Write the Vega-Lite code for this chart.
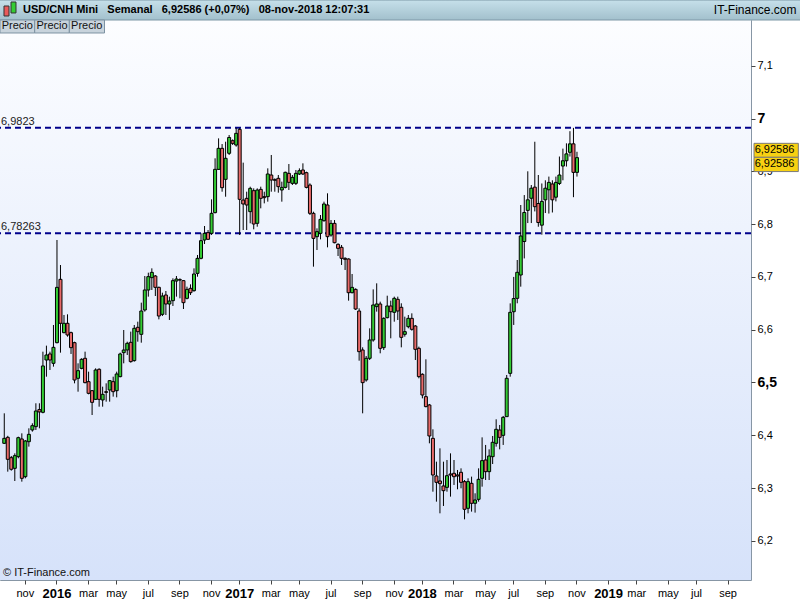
{
  "$schema": "https://vega.github.io/schema/vega-lite/v6.json",
  "width": 751,
  "height": 560,
  "autosize": {"type": "none"},
  "padding": {"left": 0, "top": 20, "right": 49, "bottom": 20},
  "background": "white",
  "config": {
    "view": {"stroke": "#8796a5", "strokeWidth": 1},
    "font": "Liberation Sans",
    "axis": {"grid": false, "title": null, "labelFont": "Liberation Sans", "labelColor": "#000"}
  },
  "datasets": {
    "one": [{"k": 1}],
    "ohlc": [
    {"d":"2015-09-21","o":6.3848,"h":6.4416,"l":6.3835,"c":6.3942},
    {"d":"2015-09-28","o":6.3961,"h":6.3990,"l":6.3311,"c":6.3545},
    {"d":"2015-10-05","o":6.3576,"h":6.3608,"l":6.3330,"c":6.3356},
    {"d":"2015-10-12","o":6.3374,"h":6.3658,"l":6.3134,"c":6.3614},
    {"d":"2015-10-19","o":6.3595,"h":6.3974,"l":6.3564,"c":6.3955},
    {"d":"2015-10-26","o":6.3930,"h":6.4037,"l":6.3122,"c":6.3185},
    {"d":"2015-11-02","o":6.3216,"h":6.3911,"l":6.3185,"c":6.3892},
    {"d":"2015-11-09","o":6.3879,"h":6.4132,"l":6.3785,"c":6.4018},
    {"d":"2015-11-16","o":6.4101,"h":6.4227,"l":6.4069,"c":6.4182},
    {"d":"2015-11-23","o":6.4164,"h":6.4606,"l":6.4101,"c":6.4460},
    {"d":"2015-11-30","o":6.4487,"h":6.4606,"l":6.4132,"c":6.4442},
    {"d":"2015-12-07","o":6.4435,"h":6.5584,"l":6.4416,"c":6.5313},
    {"d":"2015-12-14","o":6.5426,"h":6.5698,"l":6.5110,"c":6.5521},
    {"d":"2015-12-21","o":6.5540,"h":6.5584,"l":6.5237,"c":6.5426},
    {"d":"2015-12-28","o":6.5363,"h":6.6089,"l":6.5300,"c":6.5666},
    {"d":"2016-01-04","o":6.5754,"h":6.7699,"l":6.5742,"c":6.6802},
    {"d":"2016-01-11","o":6.6954,"h":6.7225,"l":6.5565,"c":6.6121},
    {"d":"2016-01-18","o":6.5944,"h":6.6279,"l":6.5931,"c":6.6121},
    {"d":"2016-01-25","o":6.6121,"h":6.6291,"l":6.5868,"c":6.5900},
    {"d":"2016-02-01","o":6.5944,"h":6.5963,"l":6.5540,"c":6.5660},
    {"d":"2016-02-08","o":6.5754,"h":6.5773,"l":6.4984,"c":6.5047},
    {"d":"2016-02-15","o":6.5079,"h":6.5363,"l":6.4826,"c":6.5224},
    {"d":"2016-02-22","o":6.5268,"h":6.5458,"l":6.5250,"c":6.5439},
    {"d":"2016-02-29","o":6.5458,"h":6.5584,"l":6.4984,"c":6.4997},
    {"d":"2016-03-07","o":6.5016,"h":6.5205,"l":6.4776,"c":6.4795},
    {"d":"2016-03-14","o":6.4845,"h":6.4858,"l":6.4384,"c":6.4624},
    {"d":"2016-03-21","o":6.4681,"h":6.5268,"l":6.4668,"c":6.5237},
    {"d":"2016-03-28","o":6.5250,"h":6.5268,"l":6.4542,"c":6.4681},
    {"d":"2016-04-04","o":6.4669,"h":6.4921,"l":6.4542,"c":6.4776},
    {"d":"2016-04-11","o":6.4826,"h":6.4984,"l":6.4637,"c":6.4813},
    {"d":"2016-04-18","o":6.4858,"h":6.5047,"l":6.4637,"c":6.5035},
    {"d":"2016-04-25","o":6.5016,"h":6.5110,"l":6.4732,"c":6.4826},
    {"d":"2016-05-02","o":6.4845,"h":6.5205,"l":6.4719,"c":6.5161},
    {"d":"2016-05-09","o":6.5111,"h":6.5565,"l":6.5098,"c":6.5540},
    {"d":"2016-05-16","o":6.5565,"h":6.5994,"l":6.5363,"c":6.5615},
    {"d":"2016-05-23","o":6.5616,"h":6.5773,"l":6.5521,"c":6.5742},
    {"d":"2016-05-30","o":6.5761,"h":6.5963,"l":6.5376,"c":6.5395},
    {"d":"2016-06-06","o":6.5414,"h":6.6089,"l":6.5395,"c":6.6026},
    {"d":"2016-06-13","o":6.6045,"h":6.6152,"l":6.5773,"c":6.5963},
    {"d":"2016-06-20","o":6.5912,"h":6.6512,"l":6.5754,"c":6.6354},
    {"d":"2016-06-27","o":6.6373,"h":6.7017,"l":6.6342,"c":6.6752},
    {"d":"2016-07-04","o":6.6752,"h":6.7080,"l":6.6626,"c":6.7005},
    {"d":"2016-07-11","o":6.6986,"h":6.7162,"l":6.6752,"c":6.7086},
    {"d":"2016-07-18","o":6.7017,"h":6.7036,"l":6.6638,"c":6.6802},
    {"d":"2016-07-25","o":6.6802,"h":6.6815,"l":6.6196,"c":6.6259},
    {"d":"2016-08-01","o":6.6291,"h":6.6701,"l":6.6259,"c":6.6638},
    {"d":"2016-08-08","o":6.6657,"h":6.6733,"l":6.6278,"c":6.6487},
    {"d":"2016-08-15","o":6.6487,"h":6.6626,"l":6.6184,"c":6.6543},
    {"d":"2016-08-22","o":6.6550,"h":6.6973,"l":6.6449,"c":6.6929},
    {"d":"2016-08-29","o":6.6922,"h":6.7017,"l":6.6626,"c":6.6960},
    {"d":"2016-09-05","o":6.6947,"h":6.6973,"l":6.6594,"c":6.6941},
    {"d":"2016-09-12","o":6.6929,"h":6.6941,"l":6.6392,"c":6.6512},
    {"d":"2016-09-19","o":6.6594,"h":6.6815,"l":6.6575,"c":6.6764},
    {"d":"2016-09-26","o":6.6783,"h":6.6859,"l":6.6657,"c":6.6701},
    {"d":"2016-10-03","o":6.6739,"h":6.7162,"l":6.6720,"c":6.7055},
    {"d":"2016-10-10","o":6.7067,"h":6.7415,"l":6.7004,"c":6.7351},
    {"d":"2016-10-17","o":6.7352,"h":6.7825,"l":6.7333,"c":6.7686},
    {"d":"2016-10-24","o":6.7699,"h":6.7964,"l":6.7623,"c":6.7825},
    {"d":"2016-10-31","o":6.7838,"h":6.7888,"l":6.7699,"c":6.7712},
    {"d":"2016-11-07","o":6.7825,"h":6.8469,"l":6.7794,"c":6.8204},
    {"d":"2016-11-14","o":6.8217,"h":6.9246,"l":6.8204,"c":6.9037},
    {"d":"2016-11-21","o":6.9037,"h":6.9624,"l":6.9025,"c":6.9435},
    {"d":"2016-11-28","o":6.9435,"h":6.9517,"l":6.8614,"c":6.8690},
    {"d":"2016-12-05","o":6.8848,"h":6.9561,"l":6.8519,"c":6.9246},
    {"d":"2016-12-12","o":6.9341,"h":6.9688,"l":6.9309,"c":6.9641},
    {"d":"2016-12-19","o":6.9580,"h":6.9605,"l":6.9499,"c":6.9530},
    {"d":"2016-12-26","o":6.9498,"h":6.9823,"l":6.9467,"c":6.9719},
    {"d":"2017-01-02","o":6.9795,"h":6.9823,"l":6.7794,"c":6.8469},
    {"d":"2017-01-09","o":6.8456,"h":6.9164,"l":6.7888,"c":6.8381},
    {"d":"2017-01-16","o":6.8488,"h":6.8614,"l":6.7888,"c":6.8362},
    {"d":"2017-01-23","o":6.8236,"h":6.8709,"l":6.8015,"c":6.8677},
    {"d":"2017-01-30","o":6.8633,"h":6.8677,"l":6.7901,"c":6.8002},
    {"d":"2017-02-06","o":6.8015,"h":6.8677,"l":6.7951,"c":6.8646},
    {"d":"2017-02-13","o":6.8658,"h":6.8709,"l":6.8299,"c":6.8488},
    {"d":"2017-02-20","o":6.8520,"h":6.8614,"l":6.8393,"c":6.8501},
    {"d":"2017-02-27","o":6.8520,"h":6.9056,"l":6.8425,"c":6.8949},
    {"d":"2017-03-06","o":6.8930,"h":6.9309,"l":6.8614,"c":6.8835},
    {"d":"2017-03-13","o":6.8842,"h":6.8867,"l":6.8614,"c":6.8830},
    {"d":"2017-03-20","o":6.8867,"h":6.8930,"l":6.8595,"c":6.8709},
    {"d":"2017-03-27","o":6.8646,"h":6.8804,"l":6.8425,"c":6.8696},
    {"d":"2017-04-03","o":6.8696,"h":6.8993,"l":6.8677,"c":6.8981},
    {"d":"2017-04-10","o":6.8961,"h":6.9138,"l":6.8646,"c":6.8791},
    {"d":"2017-04-17","o":6.8772,"h":6.8930,"l":6.8741,"c":6.8886},
    {"d":"2017-04-24","o":6.8772,"h":6.9025,"l":6.8741,"c":6.8961},
    {"d":"2017-05-01","o":6.8949,"h":6.9056,"l":6.8930,"c":6.9012},
    {"d":"2017-05-08","o":6.9025,"h":6.9151,"l":6.8930,"c":6.8949},
    {"d":"2017-05-15","o":6.8974,"h":6.8993,"l":6.8677,"c":6.8696},
    {"d":"2017-05-22","o":6.8740,"h":6.8772,"l":6.8172,"c":6.8204},
    {"d":"2017-05-29","o":6.8204,"h":6.8235,"l":6.7194,"c":6.7730},
    {"d":"2017-06-05","o":6.7762,"h":6.7920,"l":6.7509,"c":6.7857},
    {"d":"2017-06-12","o":6.7825,"h":6.8172,"l":6.7711,"c":6.8090},
    {"d":"2017-06-19","o":6.8065,"h":6.8425,"l":6.8046,"c":6.8381},
    {"d":"2017-06-26","o":6.8362,"h":6.8583,"l":6.7560,"c":6.7762},
    {"d":"2017-07-03","o":6.7793,"h":6.8077,"l":6.7762,"c":6.8014},
    {"d":"2017-07-10","o":6.8014,"h":6.8077,"l":6.7636,"c":6.7648},
    {"d":"2017-07-17","o":6.7617,"h":6.7636,"l":6.7396,"c":6.7541},
    {"d":"2017-07-24","o":6.7560,"h":6.7604,"l":6.7226,"c":6.7352},
    {"d":"2017-07-31","o":6.7352,"h":6.7371,"l":6.7131,"c":6.7333},
    {"d":"2017-08-07","o":6.7339,"h":6.7352,"l":6.6550,"c":6.6701},
    {"d":"2017-08-14","o":6.6701,"h":6.7055,"l":6.6689,"c":6.6802},
    {"d":"2017-08-21","o":6.6764,"h":6.6783,"l":6.6373,"c":6.6392},
    {"d":"2017-08-28","o":6.6354,"h":6.6405,"l":6.5413,"c":6.5584},
    {"d":"2017-09-04","o":6.5616,"h":6.5666,"l":6.4416,"c":6.4997},
    {"d":"2017-09-11","o":6.5048,"h":6.5502,"l":6.5016,"c":6.5458},
    {"d":"2017-09-18","o":6.5458,"h":6.6026,"l":6.5426,"c":6.5805},
    {"d":"2017-09-25","o":6.5805,"h":6.6764,"l":6.5773,"c":6.6468},
    {"d":"2017-10-02","o":6.6437,"h":6.6878,"l":6.6342,"c":6.6487},
    {"d":"2017-10-09","o":6.6487,"h":6.6531,"l":6.5553,"c":6.5647},
    {"d":"2017-10-16","o":6.5660,"h":6.6234,"l":6.5616,"c":6.6215},
    {"d":"2017-10-23","o":6.6228,"h":6.6644,"l":6.6215,"c":6.6449},
    {"d":"2017-10-30","o":6.6449,"h":6.6550,"l":6.5837,"c":6.6341},
    {"d":"2017-11-06","o":6.6329,"h":6.6626,"l":6.6152,"c":6.6594},
    {"d":"2017-11-13","o":6.6575,"h":6.6626,"l":6.6184,"c":6.6354},
    {"d":"2017-11-20","o":6.6424,"h":6.6500,"l":6.5666,"c":6.5855},
    {"d":"2017-11-27","o":6.5912,"h":6.6247,"l":6.5868,"c":6.5963},
    {"d":"2017-12-04","o":6.6057,"h":6.6278,"l":6.6026,"c":6.6215},
    {"d":"2017-12-11","o":6.6215,"h":6.6310,"l":6.5982,"c":6.6007},
    {"d":"2017-12-18","o":6.6070,"h":6.6089,"l":6.5426,"c":6.5628},
    {"d":"2017-12-25","o":6.5647,"h":6.5679,"l":6.5079,"c":6.5111},
    {"d":"2018-01-01","o":6.5155,"h":6.5174,"l":6.4700,"c":6.4763},
    {"d":"2018-01-08","o":6.4732,"h":6.5439,"l":6.4530,"c":6.4543},
    {"d":"2018-01-15","o":6.4574,"h":6.4593,"l":6.3848,"c":6.3987},
    {"d":"2018-01-22","o":6.3942,"h":6.4113,"l":6.2932,"c":6.3248},
    {"d":"2018-01-29","o":6.3229,"h":6.3500,"l":6.2743,"c":6.3109},
    {"d":"2018-02-05","o":6.3135,"h":6.3753,"l":6.2522,"c":6.3084},
    {"d":"2018-02-12","o":6.3040,"h":6.3500,"l":6.2661,"c":6.2951},
    {"d":"2018-02-19","o":6.3014,"h":6.3532,"l":6.2932,"c":6.3235},
    {"d":"2018-02-26","o":6.3267,"h":6.3658,"l":6.2838,"c":6.3248},
    {"d":"2018-03-05","o":6.3280,"h":6.3532,"l":6.3059,"c":6.3216},
    {"d":"2018-03-12","o":6.3248,"h":6.3343,"l":6.2977,"c":6.3229},
    {"d":"2018-03-19","o":6.3299,"h":6.3374,"l":6.2996,"c":6.3109},
    {"d":"2018-03-26","o":6.3122,"h":6.3153,"l":6.2408,"c":6.2598},
    {"d":"2018-04-02","o":6.2617,"h":6.3185,"l":6.2522,"c":6.3122},
    {"d":"2018-04-09","o":6.3090,"h":6.3217,"l":6.2554,"c":6.2712},
    {"d":"2018-04-16","o":6.2712,"h":6.2901,"l":6.2535,"c":6.2775},
    {"d":"2018-04-23","o":6.2787,"h":6.3374,"l":6.2743,"c":6.3166},
    {"d":"2018-04-30","o":6.3185,"h":6.3961,"l":6.3027,"c":6.3520},
    {"d":"2018-05-07","o":6.3532,"h":6.3817,"l":6.3153,"c":6.3311},
    {"d":"2018-05-14","o":6.3311,"h":6.3734,"l":6.3153,"c":6.3608},
    {"d":"2018-05-21","o":6.3595,"h":6.3987,"l":6.3456,"c":6.3867},
    {"d":"2018-05-28","o":6.3848,"h":6.4303,"l":6.3785,"c":6.4113},
    {"d":"2018-06-04","o":6.4100,"h":6.4195,"l":6.3734,"c":6.3961},
    {"d":"2018-06-11","o":6.3999,"h":6.4366,"l":6.3817,"c":6.4340},
    {"d":"2018-06-18","o":6.4353,"h":6.5142,"l":6.4353,"c":6.5079},
    {"d":"2018-06-25","o":6.5173,"h":6.6499,"l":6.5110,"c":6.6329},
    {"d":"2018-07-02","o":6.6340,"h":6.7000,"l":6.6090,"c":6.6590},
    {"d":"2018-07-09","o":6.6594,"h":6.7320,"l":6.6500,"c":6.7087},
    {"d":"2018-07-16","o":6.7036,"h":6.8362,"l":6.6815,"c":6.7775},
    {"d":"2018-07-23","o":6.7670,"h":6.8550,"l":6.7350,"c":6.8220},
    {"d":"2018-07-30","o":6.8260,"h":6.9000,"l":6.8020,"c":6.8460},
    {"d":"2018-08-06","o":6.8490,"h":6.8740,"l":6.8020,"c":6.8680},
    {"d":"2018-08-13","o":6.8700,"h":6.9560,"l":6.8240,"c":6.8330},
    {"d":"2018-08-20","o":6.8390,"h":6.8930,"l":6.7950,"c":6.8030},
    {"d":"2018-08-27","o":6.7980,"h":6.8770,"l":6.7800,"c":6.8430},
    {"d":"2018-09-03","o":6.8460,"h":6.8830,"l":6.8210,"c":6.8680},
    {"d":"2018-09-10","o":6.8650,"h":6.8900,"l":6.8200,"c":6.8790},
    {"d":"2018-09-17","o":6.8760,"h":6.8830,"l":6.8220,"c":6.8460},
    {"d":"2018-09-24","o":6.8510,"h":6.8900,"l":6.8430,"c":6.8790},
    {"d":"2018-10-01","o":6.8770,"h":6.9280,"l":6.8740,"c":6.8930},
    {"d":"2018-10-08","o":6.9100,"h":6.9430,"l":6.8830,"c":6.9200},
    {"d":"2018-10-15","o":6.9200,"h":6.9530,"l":6.9090,"c":6.9330},
    {"d":"2018-10-22","o":6.9360,"h":6.9760,"l":6.9280,"c":6.9520},
    {"d":"2018-10-29","o":6.9520,"h":6.9823,"l":6.8510,"c":6.8980},
    {"d":"2018-11-05","o":6.8980,"h":6.9370,"l":6.8900,"c":6.9259}
  ]},
  "layer": [
    {
      "data": {"name": "one"},
      "mark": {"type": "rect", "fill": {"gradient": "linear", "x1": 0, "y1": 0, "x2": 0, "y2": 1, "stops": [{"offset": 0, "color": "#fcfdff"}, {"offset": 1, "color": "#d6e2fa"}]}},
      "encoding": {
        "x": {"datum": {"year": 2015, "month": 9, "date": 12, "hours": 12}, "type": "temporal"},
        "x2": {"datum": {"year": 2019, "month": 10, "date": 17, "hours": 17}},
        "y": {"datum": 6.1259, "type": "quantitative"},
        "y2": {"datum": 7.1866}
      }
    },
    {
      "data": {"name": "one"},
      "mark": {"type": "rule", "stroke": "#00008b", "strokeWidth": 2, "strokeDash": [6, 4]},
      "encoding": {"y": {"datum": 6.9823, "type": "quantitative"}}
    },
    {
      "data": {"name": "one"},
      "mark": {"type": "rule", "stroke": "#00008b", "strokeWidth": 2, "strokeDash": [6, 4]},
      "encoding": {"y": {"datum": 6.78263, "type": "quantitative"}}
    },
    {
      "data": {"name": "one"},
      "mark": {"type": "text", "text": "6,9823", "align": "left", "baseline": "bottom", "dx": 1, "dy": -1, "fontSize": 11, "color": "#222"},
      "encoding": {
        "x": {"datum": {"year": 2015, "month": 9, "date": 12, "hours": 12}, "type": "temporal"},
        "y": {"datum": 6.9823, "type": "quantitative"}
      }
    },
    {
      "data": {"name": "one"},
      "mark": {"type": "text", "text": "6,78263", "align": "left", "baseline": "bottom", "dx": 1, "dy": -1, "fontSize": 11, "color": "#222"},
      "encoding": {
        "x": {"datum": {"year": 2015, "month": 9, "date": 12, "hours": 12}, "type": "temporal"},
        "y": {"datum": 6.78263, "type": "quantitative"}
      }
    },
    {
      "data": {"name": "ohlc"},
      "mark": {"type": "rule", "stroke": "#000", "strokeWidth": 1},
      "encoding": {
        "x": {
          "field": "d", "type": "temporal",
          "scale": {"nice": false, "padding": 0, "domain": [{"year": 2015, "month": 9, "date": 12, "hours": 12}, {"year": 2019, "month": 10, "date": 17, "hours": 17}]},
          "axis": {
            "orient": "bottom",
            "tickCount": {"interval": "week", "step": 1},
            "domain": false,
            "tickSize": 4,
            "tickColor": "#444",
            "tickOpacity": {"condition": {"test": "date(+datum.value + 86400000) <= 7 && month(+datum.value + 86400000) % 2 == 0", "value": 1}, "value": 0},
            "labelPadding": 3,
            "labelAlign": "center",
            "labelOverlap": false,
            "labelExpr": "(date(+datum.value + 86400000) <= 7 && month(+datum.value + 86400000) % 2 == 0) ? (month(+datum.value + 86400000) == 0 ? ('' + year(+datum.value + 86400000)) : ['ene','feb','mar','abr','may','jun','jul','ago','sep','oct','nov','dic'][month(+datum.value + 86400000)]) : ''",
            "labelFontSize": {"condition": {"test": "month(+datum.value + 86400000) == 0", "value": 13}, "value": 11},
            "labelFontWeight": {"condition": {"test": "month(+datum.value + 86400000) == 0", "value": "bold"}, "value": "normal"}
          }
        },
        "y": {
          "field": "l", "type": "quantitative",
          "scale": {"domain": [6.1259, 7.1866], "nice": false, "zero": false, "padding": 0},
          "axis": {
            "orient": "right",
            "values": [6.2, 6.3, 6.4, 6.5, 6.6, 6.7, 6.8, 6.9, 7.0, 7.1],
            "domain": false,
            "tickSize": 4,
            "tickColor": "#444",
            "labelPadding": 2,
            "labelExpr": "replace(format(datum.value, '.1~f'), '.', ',')",
            "labelFontSize": {"condition": {"test": "abs(datum.value * 2 - round(datum.value * 2)) < 0.001", "value": 14}, "value": 11},
            "labelFontWeight": {"condition": {"test": "abs(datum.value * 2 - round(datum.value * 2)) < 0.001", "value": "bold"}, "value": "normal"}
          }
        },
        "y2": {"field": "h"}
      }
    },
    {
      "data": {"name": "ohlc"},
      "mark": {"type": "bar", "width": 3, "stroke": "#000", "strokeWidth": 1},
      "encoding": {
        "x": {"field": "d", "type": "temporal"},
        "y": {"field": "o", "type": "quantitative"},
        "y2": {"field": "c"},
        "fill": {"condition": {"test": "datum.c >= datum.o", "value": "#33cc33"}, "value": "#e86a6a"}
      }
    },
    {
      "data": {"name": "one"},
      "mark": {"type": "text", "text": "© IT-Finance.com", "align": "left", "baseline": "middle", "dx": 3, "dy": -7, "fontSize": 11, "color": "#111"},
      "encoding": {
        "x": {"datum": {"year": 2015, "month": 9, "date": 12, "hours": 12}, "type": "temporal"},
        "y": {"datum": 6.1259, "type": "quantitative"}
      }
    },
    {
      "data": {"name": "one"},
      "mark": {"type": "rect", "clip": false, "stroke": "#7d97a6", "strokeWidth": 1, "fill": {"gradient": "linear", "x1": 0, "y1": 0, "x2": 0, "y2": 1, "stops": [{"offset": 0, "color": "#c6e0ea"}, {"offset": 1, "color": "#a2c0cc"}]}},
      "encoding": {
        "x": {"datum": {"year": 2015, "month": 9, "date": 11}, "type": "temporal"},
        "x2": {"datum": {"year": 2020, "month": 2, "date": 1}},
        "y": {"datum": 7.1866, "type": "quantitative"},
        "y2": {"datum": 7.2245}
      }
    },
    {
      "data": {"name": "one"},
      "mark": {"type": "rect", "clip": false, "stroke": "#333", "strokeWidth": 1, "fill": "#e85a5a"},
      "encoding": {
        "x": {"datum": {"year": 2015, "month": 9, "date": 20, "hours": 11}, "type": "temporal"},
        "x2": {"datum": {"year": 2015, "month": 9, "date": 30, "hours": 10}},
        "y": {"datum": 7.2131, "type": "quantitative"},
        "y2": {"datum": 7.1942}
      }
    },
    {
      "data": {"name": "one"},
      "mark": {"type": "rect", "clip": false, "stroke": "#333", "strokeWidth": 1, "fill": "#33cc33"},
      "encoding": {
        "x": {"datum": {"year": 2015, "month": 10, "date": 4, "hours": 10}, "type": "temporal"},
        "x2": {"datum": {"year": 2015, "month": 10, "date": 14, "hours": 9}},
        "y": {"datum": 7.2207, "type": "quantitative"},
        "y2": {"datum": 7.1999}
      }
    },
    {
      "data": {"name": "one"},
      "mark": {"type": "text", "clip": false, "text": "USD/CNH Mini\u00a0\u00a0\u00a0Semanal\u00a0\u00a0\u00a06,92586 (+0,07%)\u00a0\u00a0\u00a008-nov-2018 12:07:31", "align": "left", "baseline": "middle", "dx": 23, "fontSize": 11, "fontWeight": "bold", "color": "#000"},
      "encoding": {
        "x": {"datum": {"year": 2015, "month": 9, "date": 12, "hours": 12}, "type": "temporal"},
        "y": {"datum": 7.2056, "type": "quantitative"}
      }
    },
    {
      "data": {"name": "one"},
      "mark": {"type": "text", "clip": false, "text": "IT-Finance.com", "align": "right", "baseline": "middle", "fontSize": 12, "color": "#000"},
      "encoding": {
        "x": {"datum": {"year": 2020, "month": 1, "date": 16, "hours": 10}, "type": "temporal"},
        "y": {"datum": 7.2056, "type": "quantitative"}
      }
    },
    {
      "data": {"name": "one"},
      "mark": {"type": "rect", "stroke": "#7d92a2", "strokeWidth": 1, "fill": "#c8d3dc"},
      "encoding": {
        "x": {"datum": {"year": 2015, "month": 9, "date": 12, "hours": 12}, "type": "temporal"},
        "x2": {"datum": {"year": 2015, "month": 11, "date": 20, "hours": 15}},
        "y": {"datum": 7.1866, "type": "quantitative"},
        "y2": {"datum": 7.1620}
      }
    },
    {
      "data": {"name": "one"},
      "mark": {"type": "rect", "stroke": "#7d92a2", "strokeWidth": 1, "fill": "#c8d3dc"},
      "encoding": {
        "x": {"datum": {"year": 2015, "month": 11, "date": 20, "hours": 15}, "type": "temporal"},
        "x2": {"datum": {"year": 2016, "month": 1, "date": 28, "hours": 15}},
        "y": {"datum": 7.1866, "type": "quantitative"},
        "y2": {"datum": 7.1620}
      }
    },
    {
      "data": {"name": "one"},
      "mark": {"type": "rect", "stroke": "#7d92a2", "strokeWidth": 1, "fill": "#c8d3dc"},
      "encoding": {
        "x": {"datum": {"year": 2016, "month": 1, "date": 28, "hours": 15}, "type": "temporal"},
        "x2": {"datum": {"year": 2016, "month": 4, "date": 7, "hours": 17}},
        "y": {"datum": 7.1866, "type": "quantitative"},
        "y2": {"datum": 7.1620}
      }
    },
    {
      "data": {"name": "one"},
      "mark": {"type": "text", "text": "Precio", "align": "center", "baseline": "middle", "fontSize": 11, "color": "#111"},
      "encoding": {
        "x": {"datum": {"year": 2015, "month": 10, "date": 17}, "type": "temporal"},
        "y": {"datum": 7.1743, "type": "quantitative"}
      }
    },
    {
      "data": {"name": "one"},
      "mark": {"type": "text", "text": "Precio", "align": "center", "baseline": "middle", "fontSize": 11, "color": "#111"},
      "encoding": {
        "x": {"datum": {"year": 2015, "month": 12, "date": 25, "hours": 2}, "type": "temporal"},
        "y": {"datum": 7.1743, "type": "quantitative"}
      }
    },
    {
      "data": {"name": "one"},
      "mark": {"type": "text", "text": "Precio", "align": "center", "baseline": "middle", "fontSize": 11, "color": "#111"},
      "encoding": {
        "x": {"datum": {"year": 2016, "month": 3, "date": 3, "hours": 5}, "type": "temporal"},
        "y": {"datum": 7.1743, "type": "quantitative"}
      }
    },
    {
      "data": {"name": "one"},
      "mark": {"type": "rect", "clip": false, "stroke": "#7a7a7a", "strokeWidth": 1, "fill": "#f7d112"},
      "encoding": {
        "x": {"datum": {"year": 2019, "month": 10, "date": 23, "hours": 17}, "type": "temporal"},
        "x2": {"datum": {"year": 2020, "month": 1, "date": 20}},
        "y": {"datum": 6.9530, "type": "quantitative"},
        "y2": {"datum": 6.9265}
      }
    },
    {
      "data": {"name": "one"},
      "mark": {"type": "rect", "clip": false, "stroke": "#7a7a7a", "strokeWidth": 1, "fill": "#f7d112"},
      "encoding": {
        "x": {"datum": {"year": 2019, "month": 10, "date": 23, "hours": 17}, "type": "temporal"},
        "x2": {"datum": {"year": 2020, "month": 1, "date": 20}},
        "y": {"datum": 6.9265, "type": "quantitative"},
        "y2": {"datum": 6.8995}
      }
    },
    {
      "data": {"name": "one"},
      "mark": {"type": "text", "clip": false, "text": "6,92586", "align": "left", "baseline": "middle", "fontSize": 11, "color": "#000"},
      "encoding": {
        "x": {"datum": {"year": 2019, "month": 10, "date": 25}, "type": "temporal"},
        "y": {"datum": 6.9398, "type": "quantitative"}
      }
    },
    {
      "data": {"name": "one"},
      "mark": {"type": "text", "clip": false, "text": "6,92586", "align": "left", "baseline": "middle", "fontSize": 11, "color": "#000"},
      "encoding": {
        "x": {"datum": {"year": 2019, "month": 10, "date": 25}, "type": "temporal"},
        "y": {"datum": 6.9130, "type": "quantitative"}
      }
    }
  ]
}
